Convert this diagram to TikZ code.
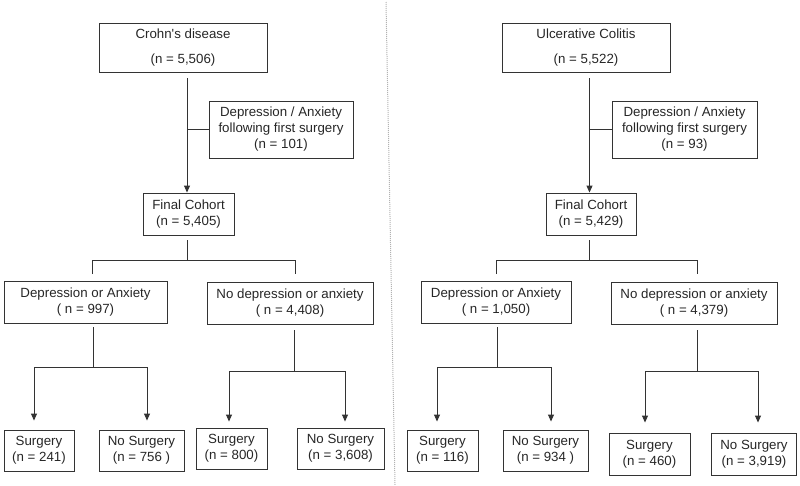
\documentclass[tikz,border=0pt]{standalone}
\usepackage{fontspec}
\setmainfont{Liberation Sans}
\usetikzlibrary{arrows.meta}

\tikzset{
  box/.style={draw=black!80, line width=0.9pt, align=center, inner sep=0pt,
    text=black!85, font=\fontsize{13.3}{16}\selectfont},
  link/.style={draw=black!80, line width=0.9pt},
  arr/.style={link, -{Triangle[length=7pt,width=6pt]}},
}

\begin{document}
\begin{tikzpicture}[x=1pt,y=-1pt]
  \useasboundingbox (0,0) rectangle (800,485);
  % divider between the two cohorts
  \draw[gray!60, line width=1pt, dash pattern=on 1pt off 1pt] (386,2) -- (395,485);

  % Crohn's disease
  \node[box, minimum width=168, minimum height=49] (cd) at (183,47.5) {Crohn\textquotesingle s disease\\[9pt](n = 5,506)};
  \node[box, minimum width=144, minimum height=57] (exL) at (281,129.5) {Depression / Anxiety\\following first surgery\\(n = 101)};
  \node[box, minimum width=91, minimum height=42] (fcL) at (188.5,214) {Final Cohort\\(n = 5,405)};
  \node[box, minimum width=163, minimum height=42] (daL) at (85.5,302) {Depression or Anxiety\\( n = 997)};
  \node[box, minimum width=166, minimum height=42] (ndL) at (290,303) {No depression or anxiety\\( n = 4,408)};
  \node[box, minimum width=70, minimum height=41] (sL1) at (39,450.5) {Surgery\\(n = 241)};
  \node[box, minimum width=85, minimum height=41] (nsL1) at (141.5,450.5) {No Surgery\\(n = 756 )};
  \node[box, minimum width=71, minimum height=41] (sL2) at (231.5,448.5) {Surgery\\(n = 800)};
  \node[box, minimum width=87, minimum height=41] (nsL2) at (340.5,448.5) {No Surgery\\(n = 3,608)};

  % Ulcerative colitis
  \node[box, minimum width=168, minimum height=49] (uc) at (586,47.5) {Ulcerative Colitis\\[9pt](n = 5,522)};
  \node[box, minimum width=145, minimum height=57] (exR) at (684.5,129.5) {Depression / Anxiety\\following first surgery\\(n = 93)};
  \node[box, minimum width=90, minimum height=42] (fcR) at (591,214) {Final Cohort\\(n = 5,429)};
  \node[box, minimum width=150, minimum height=42] (daR) at (496,302) {Depression or Anxiety\\( n = 1,050)};
  \node[box, minimum width=166, minimum height=42] (ndR) at (694,303) {No depression or anxiety\\( n = 4,379)};
  \node[box, minimum width=71, minimum height=41] (sR1) at (442.5,450.5) {Surgery\\(n = 116)};
  \node[box, minimum width=85, minimum height=41] (nsR1) at (545.5,450.5) {No Surgery\\(n = 934 )};
  \node[box, minimum width=81, minimum height=42] (sR2) at (649.5,454) {Surgery\\(n = 460)};
  \node[box, minimum width=85, minimum height=42] (nsR2) at (754,454) {No Surgery\\(n = 3,919)};

  % junctions
  \coordinate (tDL) at (92,274);
  \coordinate (tNL) at (295,274);
  \coordinate (jDL) at (93,367);
  \coordinate (jNL) at (294,371);
  \coordinate (tDR) at (496,274);
  \coordinate (tNR) at (697,274);
  \coordinate (jDR) at (497,367);
  \coordinate (jNR) at (697,371);

  % main arrows and exclusions
  \foreach \top/\fc/\ex in {cd/fcL/exL, uc/fcR/exR} {
    \draw[arr] (\top.south -| \fc.north) ++(-1.5,6) -- ([xshift=-1.5pt]\fc.north);
    \draw[link] ([xshift=-1.5pt]\fc.north |- \ex.west) -- (\ex.west);
  }

  % split into depression / no depression
  \draw[link] (fcL.south) ++(-1.5,5) -- ++(0,20) coordinate (mL);
  \draw[link] (tDL) |- (mL) -| (tNL);
  \draw[link] (fcR.south) ++(-2,5) -- ++(0,20) coordinate (mR);
  \draw[link] (tDR) |- (mR) -| (tNR);

  % stems down to the surgery split
  \draw[link] (daL.south -| jDL) ++(0,4) -- (jDL);
  \draw[link] (ndL.south -| jNL) ++(0,6) -- (jNL);
  \draw[link] (daR.south -| jDR) ++(0,4) -- (jDR);
  \draw[link] (ndR.south -| jNR) ++(0,6) -- (jNR);

  % surgery arrows
  \foreach \j/\b/\dx/\dy in {jDL/sL1/-5/9, jDL/nsL1/5.5/9, jNL/sL2/-2.5/6, jNL/nsL2/4.5/6,
                             jDR/sR1/-5.5/8, jDR/nsR1/5.5/8, jNR/sR2/-4.5/10, jNR/nsR2/4/10}
    \draw[arr] (\j) -| ([xshift=\dx pt,yshift=\dy pt]\b.north);
\end{tikzpicture}
\end{document}
